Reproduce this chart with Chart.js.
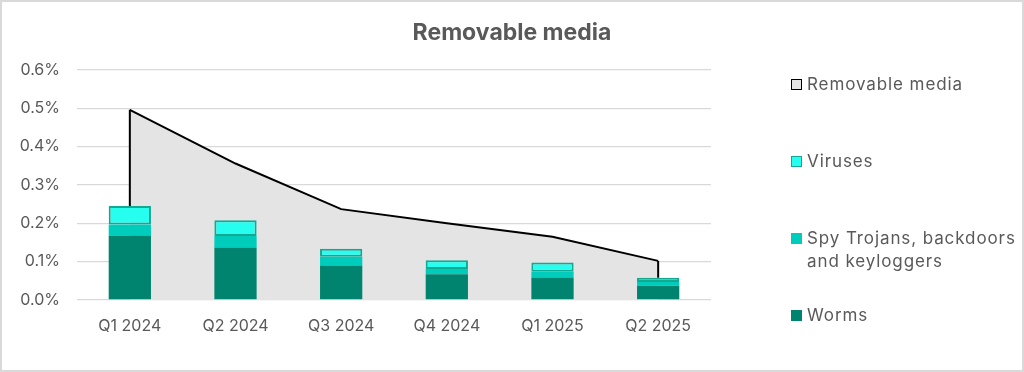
<!DOCTYPE html>
<html><head><meta charset="utf-8">
<script src="https://cdn.jsdelivr.net/npm/chart.js@4"></script>
<style>
html,body{margin:0;padding:0;background:#fff;}
#wrap{position:relative;width:1024px;height:372px;overflow:hidden;font-family:Inter,sans-serif;}
#frame{position:absolute;left:0;top:0;width:1024px;height:372px;box-sizing:border-box;border:2px solid #d9d9d9;pointer-events:none;}
canvas{position:absolute;left:0;top:0;}
#title{position:absolute;left:0;top:18px;width:1024px;text-align:center;font-size:23px;line-height:28px;font-weight:bold;color:#595959;}
.lg{position:absolute;left:807px;font-size:17px;line-height:23px;color:#595959;white-space:nowrap;letter-spacing:0.9px;}
.bx{position:absolute;left:791px;width:11px;height:11px;box-sizing:border-box;}
</style>
</head><body>
<div id="wrap">
<canvas id="c" width="1024" height="372"></canvas>
<div id="title"></div>
<div id="legend"></div>
<div id="frame"></div>
</div>
<script>
const categories = ['Q1 2024','Q2 2024','Q3 2024','Q4 2024','Q1 2025','Q2 2025'];
const removableMedia = [0.496, 0.356, 0.237, 0.200, 0.165, 0.102];
const worms   = [0.168, 0.137, 0.090, 0.067, 0.059, 0.037];
const spy     = [0.029, 0.030, 0.023, 0.014, 0.015, 0.010];
const viruses = [0.048, 0.041, 0.021, 0.023, 0.024, 0.011];
const yTicks = [0, 0.1, 0.2, 0.3, 0.4, 0.5, 0.6];
const titleText = 'Removable media';
const seriesNames = ['Removable media', 'Viruses', ['Spy Trojans, backdoors', 'and keyloggers'], 'Worms'];

const FONT = 'Inter';
const TXT = '#595959';

document.getElementById('title').textContent = titleText;

// vertical edges of the area, drawn from each end point down to the top of its bar stack
const edgePlugin = {
  id: 'edges',
  afterDatasetDraw(chart, args) {
    if (args.index !== 0) return;
    const pts = args.meta.data;
    const ys = chart.scales.y;
    const ctx = chart.ctx;
    const stackTop = i => ys.getPixelForValue(worms[i] + spy[i] + viruses[i]);
    const f = pts[0], l = pts[pts.length - 1];
    ctx.save();
    ctx.strokeStyle = '#000';
    ctx.lineWidth = 2;
    ctx.beginPath();
    ctx.moveTo(f.x, stackTop(0)); ctx.lineTo(f.x, f.y);
    ctx.moveTo(l.x, l.y); ctx.lineTo(l.x, stackTop(pts.length - 1));
    ctx.stroke();
    ctx.restore();
  }
};

new Chart(document.getElementById('c'), {
  data: {
    labels: categories,
    datasets: [
      { type: 'line', label: 'Removable media', data: removableMedia, borderColor: '#000', borderWidth: 2,
        backgroundColor: '#E4E4E4', fill: 'origin', pointRadius: 0, tension: 0, order: 5, stack: 'area' },
      { type: 'bar', label: 'Worms', data: worms, backgroundColor: '#00846F', borderWidth: 0, order: 1, stack: 'b',
        categoryPercentage: 1, barPercentage: 0.4 },
      { type: 'bar', label: 'Spy Trojans, backdoors and keyloggers', data: spy, backgroundColor: '#00CCBB', borderWidth: 0, order: 1, stack: 'b',
        categoryPercentage: 1, barPercentage: 0.4 },
      { type: 'bar', label: 'Viruses', data: viruses, backgroundColor: '#26FFF0', borderColor: '#12A892', borderWidth: 2, borderSkipped: false, order: 1, stack: 'b',
        categoryPercentage: 1, barPercentage: 0.4 }
    ]
  },
  options: {
    responsive: false,
    animation: false,
    layout: { padding: { left: 0, right: 313, top: 70, bottom: 0 } },
    plugins: {
      legend: { display: false },
      tooltip: { enabled: false },
      title: { display: false }
    },
    scales: {
      x: {
        stacked: true,
        grid: { display: false, drawTicks: false },
        border: { display: false },
        ticks: { color: TXT, font: { family: FONT, size: 16 }, padding: 17, maxRotation: 0 },
        afterFit(s) { s.height = 72; }
      },
      y: {
        stacked: true,
        min: 0, max: 0.6,
        afterBuildTicks(s) { s.ticks = yTicks.map(v => ({ value: v })); },
        grid: { color: '#D9D9D9', lineWidth: 1.3, drawTicks: false },
        border: { display: false },
        ticks: { color: TXT, font: { family: FONT, size: 16 }, padding: 17, callback: v => v.toFixed(1) + '%' },
        afterFit(s) { s.width = 77; }
      }
    }
  },
  plugins: [edgePlugin]
});

// legend
const legendItems = [
  { text: seriesNames[0], fill: '#E4E4E4', border: '1.5px solid #000', top: 73 },
  { text: seriesNames[1], fill: '#26FFF0', border: '1.5px solid #12A892', top: 149.5 },
  { text: seriesNames[2], fill: '#00CCBB', border: 'none', top: 226.5 },
  { text: seriesNames[3], fill: '#00846F', border: 'none', top: 303.5 }
];
const lg = document.getElementById('legend');
legendItems.forEach(it => {
  const t = document.createElement('div');
  t.className = 'lg';
  t.style.top = it.top + 'px';
  t.innerHTML = (Array.isArray(it.text) ? it.text : [it.text]).join('<br>');
  lg.appendChild(t);
  const b = document.createElement('div');
  b.className = 'bx';
  b.style.top = (it.top + 6) + 'px';
  b.style.background = it.fill;
  b.style.border = it.border;
  lg.appendChild(b);
});
</script>
</body></html>
